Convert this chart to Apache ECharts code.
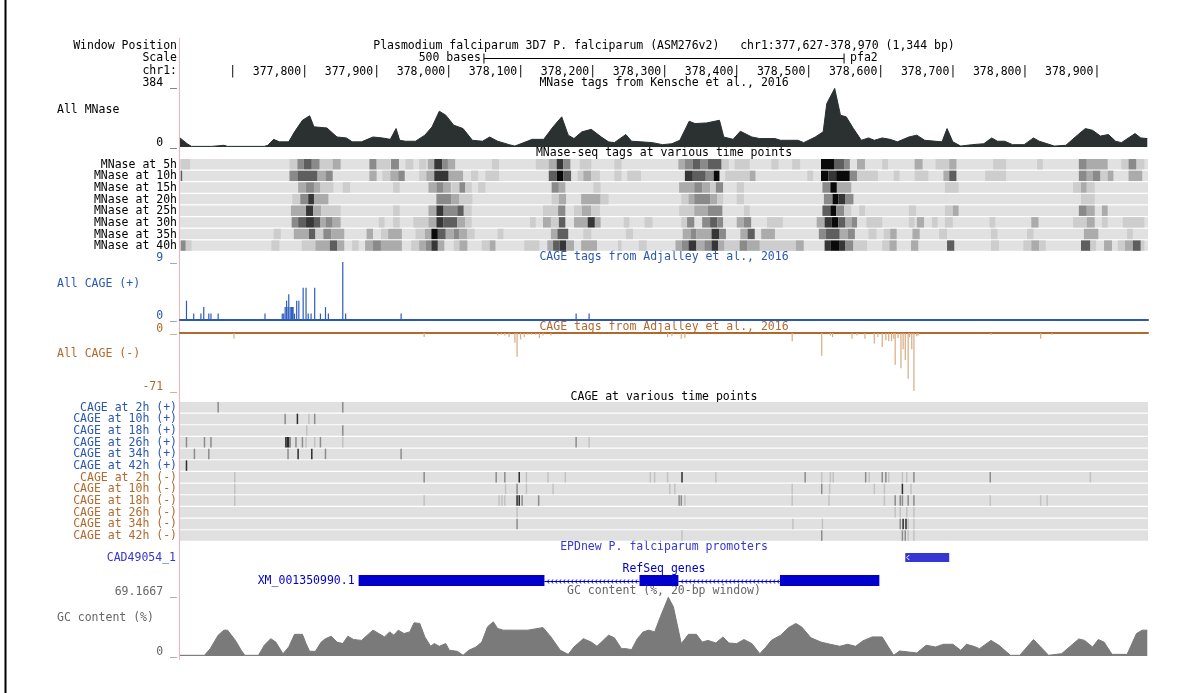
<!DOCTYPE html>
<html>
<head>
<meta charset="utf-8">
<script src="https://cdn.jsdelivr.net/npm/echarts@6/dist/echarts.min.js"></script>
<style>
html, body { margin: 0; background: #fff; }
#chart { width: 1184px; height: 693px; }
</style>
</head>
<body>
<div id="chart"></div>
<script>
// window shown, chr1
const winStart = 377627;
const winEnd = 378970;
const rulerTicks = [377700, 377800, 377900, 378000, 378100, 378200, 378300, 378400, 378500, 378600, 378700, 378800, 378900];
const scaleBar = [378049, 378549];

// All MNase coverage: [offset from winStart, tags]
const mnase = [[0,58],[10,21],[16,4],[44,4],[46,11],[61,11],[66,4],[117,4],[122,11],[130,49],[138,33],[151,33],[159,97],[170,171],[180,200],[186,129],[204,122],[218,64],[231,58],[239,33],[252,33],[268,64],[281,58],[292,49],[300,118],[305,43],[313,37],[327,37],[340,76],[350,129],[360,229],[369,204],[380,140],[393,118],[406,43],[420,37],[430,64],[441,37],[457,15],[465,6],[489,49],[505,49],[518,129],[530,193],[539,76],[547,54],[558,97],[571,113],[585,64],[595,33],[603,28],[619,80],[627,37],[640,33],[656,28],[670,15],[683,21],[694,43],[707,165],[715,150],[731,154],[749,171],[755,64],[768,49],[778,101],[794,64],[805,54],[826,54],[834,43],[858,43],[866,28],[882,64],[893,97],[898,278],[909,375],[917,204],[925,193],[935,118],[946,43],[956,58],[964,43],[975,58],[986,49],[996,33],[1012,64],[1023,76],[1034,43],[1058,33],[1065,118],[1073,33],[1084,6],[1100,15],[1116,21],[1127,58],[1135,37],[1145,37],[1156,15],[1172,15],[1185,58],[1193,37],[1214,6],[1230,11],[1246,76],[1257,118],[1267,107],[1278,70],[1289,80],[1299,37],[1307,28],[1326,86],[1334,58],[1343,54]];

const mnaseRows = ['MNase at 5h', 'MNase at 10h', 'MNase at 15h', 'MNase at 20h', 'MNase at 25h', 'MNase at 30h', 'MNase at 35h', 'MNase at 40h'];
// [start, end, shade level 1..6]
const mnaseHeat = [
  [[1,14,1],[152,163,1],[163,172,3],[172,183,4],[183,194,3],[194,212,1],[212,223,2],[263,273,3],[273,292,1],[293,304,3],[313,324,1],[332,342,1],[344,353,2],[353,364,5],[364,372,3],[372,382,2],[433,443,1],[494,512,1],[512,523,2],[523,532,5],[532,542,3],[555,571,1],[603,613,1],[692,701,2],[701,712,3],[712,722,4],[722,733,3],[733,752,4],[752,762,1],[770,791,1],[821,831,1],[850,861,1],[890,908,6],[908,922,4],[922,930,3],[940,951,2],[975,983,1],[1020,1031,2],[1049,1068,1],[1068,1078,2],[1129,1147,1],[1190,1198,1],[1248,1259,3],[1259,1288,2],[1307,1317,1],[1317,1328,3],[1328,1339,1]],
  [[1,3,4],[152,163,3],[163,191,4],[191,202,2],[202,212,3],[263,273,2],[281,292,1],[292,303,2],[303,312,3],[332,342,1],[342,353,2],[353,373,5],[373,393,2],[404,414,1],[424,443,1],[512,523,4],[523,532,6],[532,543,4],[552,560,1],[560,571,2],[571,583,1],[603,613,1],[621,640,1],[701,712,5],[712,730,4],[730,741,3],[741,749,6],[757,791,1],[791,799,2],[871,879,1],[890,900,6],[900,911,5],[911,930,6],[930,940,3],[940,969,1],[991,999,1],[1020,1039,1],[1060,1068,2],[1068,1078,4],[1118,1147,1],[1248,1259,3],[1259,1267,2],[1267,1278,3],[1278,1288,1],[1288,1296,2],[1317,1336,2]],
  [[164,175,2],[175,186,3],[186,195,2],[195,213,1],[226,236,1],[296,305,1],[345,356,2],[356,366,3],[366,376,2],[377,388,1],[388,396,3],[396,405,1],[414,424,1],[516,526,3],[526,535,2],[574,584,1],[693,714,2],[714,725,3],[725,736,2],[736,744,1],[744,754,3],[773,783,1],[892,903,3],[903,912,6],[912,932,2],[1062,1081,1],[1240,1251,1],[1251,1259,2],[1259,1270,1]],
  [[156,167,1],[167,178,3],[178,186,5],[186,206,2],[356,377,3],[377,388,2],[388,406,1],[516,526,1],[526,536,2],[557,584,2],[584,595,1],[696,706,1],[706,714,2],[714,736,3],[736,746,2],[746,754,1],[773,783,1],[894,906,3],[906,914,6],[914,924,5],[924,935,3],[1251,1270,1]],
  [[154,175,2],[175,185,5],[185,196,2],[196,223,1],[296,305,1],[345,356,2],[356,366,5],[366,385,3],[385,394,4],[394,405,1],[504,525,1],[525,535,3],[547,558,1],[558,571,2],[571,583,1],[693,714,1],[714,733,2],[733,753,3],[783,791,1],[892,903,4],[903,911,6],[911,922,3],[922,932,1],[943,951,1],[1012,1022,1],[1062,1073,1],[1073,1081,2],[1248,1259,3],[1259,1270,2],[1280,1288,2]],
  [[155,164,3],[164,175,4],[175,186,5],[186,195,4],[195,202,2],[202,212,3],[212,223,2],[276,284,1],[296,305,1],[324,345,1],[345,356,2],[356,366,5],[366,385,4],[385,396,2],[396,405,1],[486,494,1],[504,515,2],[515,526,1],[526,535,4],[547,566,2],[566,576,5],[576,584,2],[616,624,1],[645,656,1],[696,704,1],[704,714,3],[725,736,3],[736,746,4],[746,754,3],[773,783,2],[783,793,3],[815,837,1],[884,895,2],[895,905,5],[905,914,6],[914,924,4],[924,933,2],[933,940,3],[953,975,1],[1012,1020,1],[1023,1033,2],[1044,1052,1],[1062,1073,1],[1124,1132,1],[1182,1192,2],[1240,1259,1],[1259,1270,2],[1280,1288,1],[1309,1339,1]],
  [[130,140,1],[158,179,2],[179,188,4],[188,199,1],[199,210,3],[210,228,2],[259,268,2],[279,289,1],[289,308,2],[327,340,1],[340,349,2],[349,358,6],[358,369,4],[369,380,2],[380,388,3],[388,399,2],[399,409,1],[441,449,1],[515,524,2],[524,539,4],[560,571,1],[619,629,1],[698,709,2],[709,717,3],[717,738,2],[738,749,5],[749,758,3],[778,788,2],[788,798,4],[807,826,2],[887,897,3],[897,916,4],[916,927,2],[927,937,3],[956,967,1],[977,986,1],[986,995,2],[1017,1027,2],[1054,1065,1],[1126,1135,1],[1176,1185,1],[1255,1275,2],[1315,1323,1]],
  [[1,8,3],[8,16,1],[127,138,1],[169,188,1],[188,208,2],[208,218,4],[218,228,2],[239,248,1],[257,268,2],[268,279,3],[279,308,2],[321,332,1],[332,341,2],[341,349,3],[349,358,5],[358,367,2],[380,388,1],[388,399,2],[419,430,1],[430,438,2],[478,499,1],[510,518,2],[518,527,4],[527,536,5],[536,547,2],[557,579,2],[608,613,1],[637,648,1],[688,697,2],[697,706,3],[706,717,5],[717,728,2],[728,738,3],[738,747,5],[747,756,2],[756,777,1],[777,788,3],[788,805,2],[805,855,1],[855,866,2],[895,903,5],[903,916,6],[916,924,5],[924,935,3],[935,954,1],[975,985,1],[985,995,2],[1015,1025,2],[1065,1075,4],[1126,1137,1],[1171,1182,1],[1182,1193,2],[1193,1202,1],[1251,1264,4],[1264,1272,1],[1283,1294,2],[1302,1312,1],[1312,1323,2],[1323,1334,4],[1334,1339,1]]
];

// All CAGE tags [offset, count]
const cagePlus = [[9,3],[19,1],[29,1],[33,2],[40,1],[43,1],[53,1],[118,1],[142,1],[144,1],[146,2],[148,3],[150,2],[151,4],[153,2],[155,2],[156,2],[157,2],[159,1],[162,3],[165,3],[171,5],[175,5],[178,1],[182,1],[187,5],[195,1],[202,2],[206,1],[226,9],[230,1],[307,1],[550,1],[568,1]];
const cageMinus = [[75,-7],[339,-5],[441,-3],[446,-2],[451,-3],[457,-5],[465,-12],[468,-29],[473,-8],[478,-5],[483,-2],[488,-2],[494,-2],[499,-6],[504,-3],[515,-3],[677,-5],[683,-4],[696,-7],[701,-6],[850,-10],[891,-28],[903,-3],[906,-5],[933,-7],[940,-3],[951,-7],[964,-13],[969,-5],[975,-17],[980,-9],[984,-10],[988,-10],[991,-7],[993,-39],[997,-6],[1001,-43],[1004,-20],[1007,-33],[1011,-56],[1013,-5],[1016,-20],[1019,-71],[1023,-4],[1025,-3],[1126,-2],[1195,-7],[1211,-2]];

const cageRows = ['CAGE at 2h (+)', 'CAGE at 10h (+)', 'CAGE at 18h (+)', 'CAGE at 26h (+)', 'CAGE at 34h (+)', 'CAGE at 42h (+)', 'CAGE at 2h (-)', 'CAGE at 10h (-)', 'CAGE at 18h (-)', 'CAGE at 26h (-)', 'CAGE at 34h (-)', 'CAGE at 42h (-)'];
// [offset, shade level 1..3]
const cageTicks = [
  [[53,2],[226,2]],
  [[146,2],[163,3],[179,1],[187,2]],
  [[176,1],[226,2]],
  [[9,2],[34,2],[43,2],[147,3],[149,3],[151,3],[153,2],[161,2],[170,2],[175,1],[187,1],[195,2],[226,1],[550,2],[568,1]],
  [[20,2],[40,2],[150,2],[164,3],[183,3],[202,2],[307,2]],
  [[9,3]],
  [[76,1],[339,2],[439,2],[451,2],[471,3],[481,1],[511,1],[535,1],[653,1],[659,1],[677,1],[697,3],[744,1],[868,2],[891,1],[903,1],[907,1],[952,2],[957,1],[975,2],[980,2],[984,1],[1003,1],[1009,1],[1019,2],[1125,2],[1264,1]],
  [[76,1],[452,1],[468,2],[481,1],[518,1],[680,1],[687,1],[850,1],[891,2],[902,1],[964,1],[978,1],[1003,3],[1015,1]],
  [[76,1],[339,1],[443,1],[447,1],[451,1],[468,3],[471,3],[475,2],[498,2],[693,2],[696,2],[701,1],[850,1],[901,1],[978,1],[993,2],[1000,2],[1003,2],[1011,2],[1019,2],[1125,1],[1195,1],[1204,1]],
  [[468,1],[993,1],[1000,1],[1009,1],[1019,1]],
  [[468,2],[851,1],[892,1],[1000,2],[1004,3],[1008,3],[1011,1],[1019,1]],
  [[697,1],[891,2],[1003,2],[1007,2],[1011,1],[1019,1]]
];

const promoterName = 'CAD49054_1';
const promoter = [1007, 1068];
const geneName = 'XM_001350990.1';
const geneExons = [[248, 506], [638, 692], [833, 971]];

const gcMax = 69.1667;
const gc = [[0,0.8],[34,0.8],[42,8.5],[53,24],[61,29.8],[66,29.8],[77,18],[85,6.6],[90,0.8],[109,0.8],[117,12.4],[126,20],[133,16],[143,2.7],[151,10.4],[159,25],[170,25],[175,14.3],[180,5.4],[188,5.4],[196,16],[202,20],[210,22.8],[218,16],[226,14.3],[233,22.8],[241,19],[252,18],[260,24],[268,29.8],[276,25.9],[284,22],[291,27.8],[297,24],[303,29.8],[311,25.9],[319,27.8],[325,38.3],[333,37.5],[340,22],[348,11.2],[353,14.3],[360,11.2],[369,14.3],[374,6.6],[385,5.4],[393,0.8],[401,6.6],[411,10.4],[419,16],[427,33.6],[435,39.4],[441,31.7],[449,29.8],[462,29.8],[483,29.8],[504,32.8],[515,22],[528,6.6],[539,1.9],[547,10.4],[560,20],[571,16],[579,11.2],[595,24],[603,21],[613,8.5],[619,8.5],[627,7.3],[635,20],[643,27.8],[651,29.8],[659,27.8],[667,45.2],[678,67.6],[685,56.8],[696,14.3],[706,25],[717,25],[725,16],[733,18],[744,15],[754,22],[762,15],[773,14.3],[783,19],[794,14.3],[805,2.7],[813,9.7],[821,18],[834,24],[845,32.8],[855,37.5],[863,33.6],[876,21],[890,16],[903,13.5],[916,11.2],[927,13.5],[938,11.2],[948,17.4],[961,22],[975,22],[983,11.2],[991,0.8],[999,5.8],[1023,3.5],[1036,12.4],[1049,10.4],[1060,13.5],[1073,13.5],[1084,6.6],[1092,13.5],[1102,11.2],[1110,8.5],[1126,18],[1137,12.4],[1153,0.8],[1166,0.8],[1185,19],[1195,10.4],[1206,0.8],[1224,2.7],[1248,19.7],[1256,18],[1267,10.4],[1275,19],[1283,16],[1294,1.9],[1315,1.9],[1328,25.9],[1336,29.8],[1343,29.8]];

const FONT = '"DejaVu Sans Mono", monospace';
const FONT_CSS = '11.5px "DejaVu Sans Mono", monospace';
const BLUE = '#2b57b0';
const BROWN = '#b2692e';
const EPD = '#3636d2';
const GENE = '#0000cc';
const GRAY = '#666666';
const heatGrays = ['#e1e1e1', '#cdcdcd', '#ababab', '#8a8a8a', '#5e5e5e', '#363636', '#0a0a0a'];
const tickGrays = ['#e0e0e0', '#c2c2c2', '#8c8c8c', '#2c2c2c'];

const LEFT = 180;
const WIDTH = 968;
const gridSpec = [
  [54, 8],    // scale bar
  [60, 5],    // ruler
  [87, 60],   // All MNase
  [159, 93],  // MNase time points
  [262, 58],  // CAGE +
  [333, 58],  // CAGE -
  [402, 140], // CAGE time points
  [553, 9],   // EPDnew
  [575, 11],  // RefSeq
  [596, 60]   // GC
];

const at = o => winStart + o;

function renderScale(params, api) {
  const a = api.coord([api.value(0), 0]);
  const b = api.coord([api.value(1), 0]);
  const y = Math.round(a[1]) + 0.5;
  const st = { stroke: '#000', lineWidth: 1 };
  return {
    type: 'group',
    children: [
      { type: 'line', shape: { x1: a[0], y1: y, x2: b[0], y2: y }, style: st },
      { type: 'line', shape: { x1: a[0], y1: y - 5, x2: a[0], y2: y + 5 }, style: st },
      { type: 'line', shape: { x1: b[0], y1: y - 5, x2: b[0], y2: y + 5 }, style: st },
      { type: 'text', x: a[0] - 3, y: y, style: { text: (api.value(1) - api.value(0)) + ' bases', font: FONT_CSS, fill: '#000', align: 'right', verticalAlign: 'middle' } },
      { type: 'text', x: b[0] + 6, y: y, style: { text: 'pfa2', font: FONT_CSS, fill: '#000', align: 'left', verticalAlign: 'middle' } }
    ]
  };
}

function renderBand(colors) {
  return function (params, api) {
    const p0 = api.coord([api.value(0), api.value(2)]);
    const p1 = api.coord([api.value(1), api.value(2) + 1]);
    return {
      type: 'rect',
      shape: { x: p0[0], y: p0[1], width: Math.max(p1[0] - p0[0], 1), height: p1[1] - p0[1] - 1.2 },
      style: { fill: colors[api.value(3)] }
    };
  };
}

function renderTick(params, api) {
  const p0 = api.coord([api.value(0), api.value(1)]);
  const p1 = api.coord([api.value(0), api.value(1) + 1]);
  return {
    type: 'rect',
    shape: { x: p0[0] - 0.75, y: p0[1], width: 1.5, height: p1[1] - p0[1] - 1.2 },
    style: { fill: tickGrays[api.value(2)] }
  };
}

function renderSpike(params, api) {
  const base = api.coord([api.value(0), 0]);
  const top = api.coord([api.value(0), api.value(1)]);
  return {
    type: 'rect',
    shape: { x: base[0] - 0.6, y: Math.min(base[1], top[1]), width: 1.2, height: Math.abs(top[1] - base[1]) },
    style: { fill: api.visual('color') }
  };
}

function renderPromoter(params, api) {
  const a = api.coord([api.value(0), 0]);
  const b = api.coord([api.value(1), 1]);
  const ym = (a[1] + b[1]) / 2;
  return {
    type: 'group',
    children: [
      { type: 'rect', shape: { x: a[0], y: b[1], width: b[0] - a[0], height: a[1] - b[1] }, style: { fill: EPD } },
      { type: 'polyline', shape: { points: [[a[0] + 4, ym - 2.5], [a[0] + 1.5, ym], [a[0] + 4, ym + 2.5]] }, style: { stroke: '#fff', lineWidth: 1, fill: null } }
    ]
  };
}

function renderGene(params, api) {
  const a = api.coord([api.value(0), 0]);
  const b = api.coord([api.value(1), 1]);
  const kind = api.value(2);
  const ym = Math.round((a[1] + b[1]) / 2) + 0.5;
  if (kind === 0) {
    const children = [{ type: 'rect', shape: { x: a[0], y: b[1], width: b[0] - a[0], height: a[1] - b[1] }, style: { fill: GENE } }];
    if (params.dataIndex === 0) {
      children.push({ type: 'text', x: a[0] - 4, y: ym, style: { text: geneName, font: FONT_CSS, fill: GENE, align: 'right', verticalAlign: 'middle' } });
    }
    return { type: 'group', children };
  }
  const children = [{ type: 'line', shape: { x1: a[0], y1: ym, x2: b[0], y2: ym }, style: { stroke: GENE, lineWidth: 1 } }];
  for (let x = a[0] + 3; x < b[0] - 2; x += 4) {
    children.push({ type: 'polyline', shape: { points: [[x + 1.5, ym - 2], [x, ym], [x + 1.5, ym + 2]] }, style: { stroke: GENE, lineWidth: 1, fill: null } });
  }
  return { type: 'group', children };
}

const chart = echarts.init(document.getElementById('chart'));

const grids = gridSpec.map((g, i) => ({ left: i === 1 ? LEFT + 3.5 : LEFT, width: WIDTH, top: g[0], height: g[1] }));

const xAxes = gridSpec.map((g, i) => ({
  gridIndex: i, type: 'value', min: winStart, max: winEnd + 1,
  show: i === 1 || i === 4 || i === 5,
  position: i === 5 ? 'top' : 'bottom',
  axisLine: { show: i === 4 || i === 5, onZero: true, lineStyle: { color: i === 4 ? BLUE : BROWN, width: 2 } },
  axisTick: { show: false },
  splitLine: { show: false },
  axisLabel: i === 1 ? {
    show: true, customValues: rulerTicks, margin: 1, align: 'right',
    fontFamily: FONT, fontSize: 11.5, color: '#000',
    formatter: v => v === rulerTicks[0] ? '|' : v.toLocaleString('en-US') + '|'
  } : { show: false }
}));

function valueAxis(i, min, max, labels, color, inverse) {
  return {
    gridIndex: i, type: 'value', min, max, inverse: !!inverse,
    show: !!labels,
    axisLine: { show: false }, axisTick: { show: false }, splitLine: { show: false },
    axisLabel: labels ? {
      show: true, customValues: labels, margin: 3, fontFamily: FONT, fontSize: 11.5,
      color, verticalAlign: 'bottom', lineHeight: 8,
      formatter: v => v + ' _'
    } : { show: false }
  };
}

const yAxes = [
  valueAxis(0, -1, 1),
  valueAxis(1, 0, 1),
  valueAxis(2, 0, 384, [0, 384], '#000'),
  valueAxis(3, 0, mnaseRows.length, null, null, true),
  valueAxis(4, 0, 9, [0, 9], BLUE),
  valueAxis(5, -71, 0, [-71, 0], BROWN),
  valueAxis(6, 0, cageRows.length, null, null, true),
  valueAxis(7, 0, 1),
  valueAxis(8, 0, 1),
  valueAxis(9, 0, gcMax, [0, gcMax], GRAY)
];

const heatData = mnaseRows.map((r, i) => [winStart, winEnd + 1, i, 0])
  .concat(mnaseHeat.flatMap((row, r) => row.map(s => [at(s[0]), at(s[1]), r, s[2]])));
const cageBg = cageRows.map((r, i) => [winStart, winEnd + 1, i, 0]);
const cageTickData = cageTicks.flatMap((row, r) => row.map(t => [at(t[0]), r, t[1]]));
const geneData = [];
geneExons.forEach(e => geneData.push([at(e[0]), at(e[1]), 0]));
for (let i = 1; i < geneExons.length; i++) {
  geneData.push([at(geneExons[i - 1][1]), at(geneExons[i][0]), 1]);
}

function txt(x, y, text, color, align) {
  return { type: 'text', x, y, silent: true, style: { text, fill: color || '#000', font: FONT_CSS, align: align || 'right', verticalAlign: 'middle' } };
}

const CX = LEFT + WIDTH / 2;
const RX = 177;
const graphics = [
  { type: 'line', shape: { x1: 179.5, y1: 38, x2: 179.5, y2: 660 }, style: { stroke: '#f3b3b3', lineWidth: 1 } },
  { type: 'line', shape: { x1: 5.5, y1: 0, x2: 5.5, y2: 693 }, style: { stroke: '#000', lineWidth: 2 } },
  txt(RX, 46, 'Window Position'),
  txt(RX, 58, 'Scale'),
  txt(RX, 71, 'chr1:'),
  txt(CX, 46, 'Plasmodium falciparum 3D7 P. falciparum (ASM276v2)   chr1:' + winStart.toLocaleString('en-US') + '-' + winEnd.toLocaleString('en-US') + ' (' + (winEnd - winStart + 1).toLocaleString('en-US') + ' bp)', '#000', 'center'),
  txt(CX, 83, 'MNase tags from Kensche et al., 2016', '#000', 'center'),
  txt(57, 110, 'All MNase', '#000', 'left'),
  txt(CX, 153, 'MNase-seq tags at various time points', '#000', 'center'),
  txt(CX, 257, 'CAGE tags from Adjalley et al., 2016', BLUE, 'center'),
  txt(57, 284, 'All CAGE (+)', BLUE, 'left'),
  txt(CX, 327, 'CAGE tags from Adjalley et al., 2016', BROWN, 'center'),
  txt(57, 354, 'All CAGE (-)', BROWN, 'left'),
  txt(CX, 397, 'CAGE at various time points', '#000', 'center'),
  txt(CX, 547, 'EPDnew P. falciparum promoters', EPD, 'center'),
  txt(176, 558, promoterName, EPD),
  txt(CX, 569, 'RefSeq genes', GENE, 'center'),
  txt(CX, 591, 'GC content (%, 20-bp window)', GRAY, 'center'),
  txt(57, 618, 'GC content (%)', GRAY, 'left')
];
mnaseRows.forEach((name, r) => graphics.push(txt(RX, 159 + 93 / 8 * (r + 0.5), name)));
cageRows.forEach((name, r) => graphics.push(txt(RX, 402 + 140 / 12 * (r + 0.5), name, r < 6 ? BLUE : BROWN)));

chart.setOption({
  animation: false,
  grid: grids,
  xAxis: xAxes,
  yAxis: yAxes,
  graphic: { elements: graphics },
  series: [
    { type: 'custom', xAxisIndex: 0, yAxisIndex: 0, renderItem: renderScale, data: [scaleBar], encode: { x: [0, 1] } },
    {
      type: 'line', xAxisIndex: 2, yAxisIndex: 2, symbol: 'none',
      data: mnase.map(p => [at(p[0]), p[1]]),
      lineStyle: { color: '#2b3131', width: 1 }, areaStyle: { color: '#2b3131', opacity: 1 }
    },
    { type: 'custom', xAxisIndex: 3, yAxisIndex: 3, renderItem: renderBand(heatGrays), data: heatData, encode: { x: [0, 1], y: 2 } },
    { type: 'custom', xAxisIndex: 4, yAxisIndex: 4, renderItem: renderSpike, itemStyle: { color: '#2c5cbc' }, data: cagePlus.map(p => [at(p[0]), p[1]]) },
    { type: 'custom', xAxisIndex: 5, yAxisIndex: 5, renderItem: renderSpike, itemStyle: { color: '#d9aa80' }, data: cageMinus.map(p => [at(p[0]), p[1]]) },
    { type: 'custom', xAxisIndex: 6, yAxisIndex: 6, renderItem: renderBand(tickGrays), data: cageBg, encode: { x: [0, 1], y: 2 } },
    { type: 'custom', xAxisIndex: 6, yAxisIndex: 6, renderItem: renderTick, data: cageTickData },
    { type: 'custom', xAxisIndex: 7, yAxisIndex: 7, renderItem: renderPromoter, data: [[at(promoter[0]), at(promoter[1])]], encode: { x: [0, 1] } },
    { type: 'custom', xAxisIndex: 8, yAxisIndex: 8, renderItem: renderGene, data: geneData, encode: { x: [0, 1] } },
    {
      type: 'line', xAxisIndex: 9, yAxisIndex: 9, symbol: 'none',
      data: gc.map(p => [at(p[0]), p[1]]),
      lineStyle: { color: '#7a7a7a', width: 1 }, areaStyle: { color: '#7a7a7a', opacity: 1 }
    }
  ]
});
</script>
</body>
</html>
